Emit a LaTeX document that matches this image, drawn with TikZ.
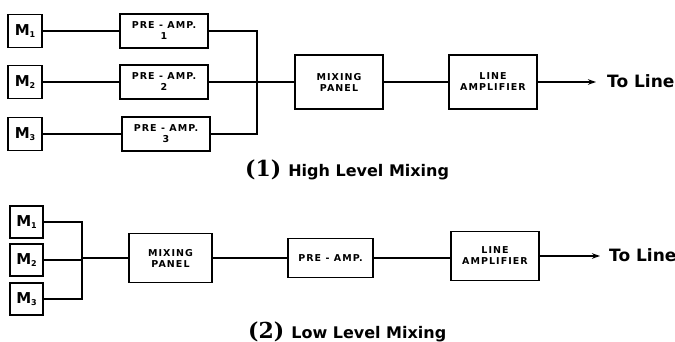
\documentclass[tikz,border=0pt]{standalone}
\usepackage{fontspec}
\usetikzlibrary{arrows.meta}
\newfontfamily\labfont[LetterSpace=11]{DejaVu Sans Bold}
\newfontfamily\bigfont{DejaVu Sans Bold}
\newfontfamily\numfont{DejaVu Serif Bold}
\begin{document}
\begin{tikzpicture}[x=1pt,y=-1pt,
  blk/.style={draw,line width=1.6pt,inner sep=0pt,align=center,font=\labfont\fontsize{9.5}{11}\selectfont},
  mic/.style={draw,line width=1.6pt,inner sep=0pt,minimum width=34pt,minimum height=33pt,font=\bigfont\fontsize{15}{15}\selectfont},
  wire/.style={line width=1.3pt},
  arr/.style={line width=1.3pt,-{Stealth[length=8pt,width=5.5pt]}},
  tol/.style={font=\bigfont\fontsize{17}{17}\selectfont,anchor=west,inner sep=0pt},
  captxt/.style={font=\bigfont\fontsize{16}{16}\selectfont,anchor=base west,inner sep=0pt}]
\useasboundingbox (0,0) rectangle (675,342);
% ---- (1) High level mixing
\node[mic] (m1) at (25,31) {M\raisebox{-2.5pt}{\fontsize{8}{8}\selectfont 1}};
\node[mic] (m2) at (25,82) {M\raisebox{-2.5pt}{\fontsize{8}{8}\selectfont 2}};
\node[mic] (m3) at (25,134) {M\raisebox{-2.5pt}{\fontsize{8}{8}\selectfont 3}};
\node[blk,minimum width=88pt,minimum height=34pt] (pa1) at (164,31) {PRE - AMP.\\1};
\node[blk,minimum width=88pt,minimum height=34pt] (pa2) at (164,82) {PRE - AMP.\\2};
\node[blk,minimum width=88pt,minimum height=34pt] (pa3) at (166,134) {PRE - AMP.\\3};
\coordinate (bus1) at (257,134);
\node[blk,minimum width=88pt,minimum height=54pt] (mp1) at (339,82) {MIXING\\PANEL};
\node[blk,minimum width=88pt,minimum height=54pt] (la1) at (493,82) {LINE\\AMPLIFIER};
\coordinate (e1) at (596,82);
\node[tol] (t1) at (607,81) {To Line};
\draw[wire] (m1) -- (pa1);
\draw[wire] (m2) -- (pa2);
\draw[wire] (m3) -- (pa3);
\draw[wire] (pa1.east) -| (bus1) -- (pa3.east);
\draw[wire] (pa2) -- (mp1);
\draw[wire] (mp1) -- (la1);
\draw[arr] (la1) -- (e1);
\node[captxt] (c1) at (245,176) {{\numfont\fontsize{22}{22}\selectfont (1)}\kern7pt High Level Mixing};
% ---- (2) Low level mixing
\node[mic,minimum width=33pt,minimum height=32pt] (n1) at (26.5,222) {M\raisebox{-2.5pt}{\fontsize{8}{8}\selectfont 1}};
\node[mic,minimum width=33pt,minimum height=32pt] (n2) at (26.5,260) {M\raisebox{-2.5pt}{\fontsize{8}{8}\selectfont 2}};
\node[mic,minimum width=33pt,minimum height=32pt] (n3) at (26.5,299) {M\raisebox{-2.5pt}{\fontsize{8}{8}\selectfont 3}};
\coordinate (bus2) at (82,299);
\node[blk,minimum width=83pt,minimum height=49pt] (mp2) at (170.5,258) {MIXING\\PANEL};
\node[blk,minimum width=85pt,minimum height=39pt] (pa4) at (330.5,258) {PRE - AMP.};
\node[blk,minimum width=88pt,minimum height=49pt] (la2) at (495,256) {LINE\\AMPLIFIER};
\coordinate (e2) at (600,256);
\node[tol] (t2) at (609,255) {To Line};
\draw[wire] (n1.east) -| (bus2) -- (n3.east);
\draw[wire] (n2.east) -- (n2.east -| bus2);
\draw[wire] (bus2 |- mp2) -- (mp2);
\draw[wire] (mp2) -- (pa4.west |- mp2);
\draw[wire] (pa4.east) -- (la2.west |- pa4.east);
\draw[arr] (la2) -- (e2);
\node[captxt] (c2) at (248,338) {{\numfont\fontsize{22}{22}\selectfont (2)}\kern7pt Low Level Mixing};
\end{tikzpicture}
\end{document}
